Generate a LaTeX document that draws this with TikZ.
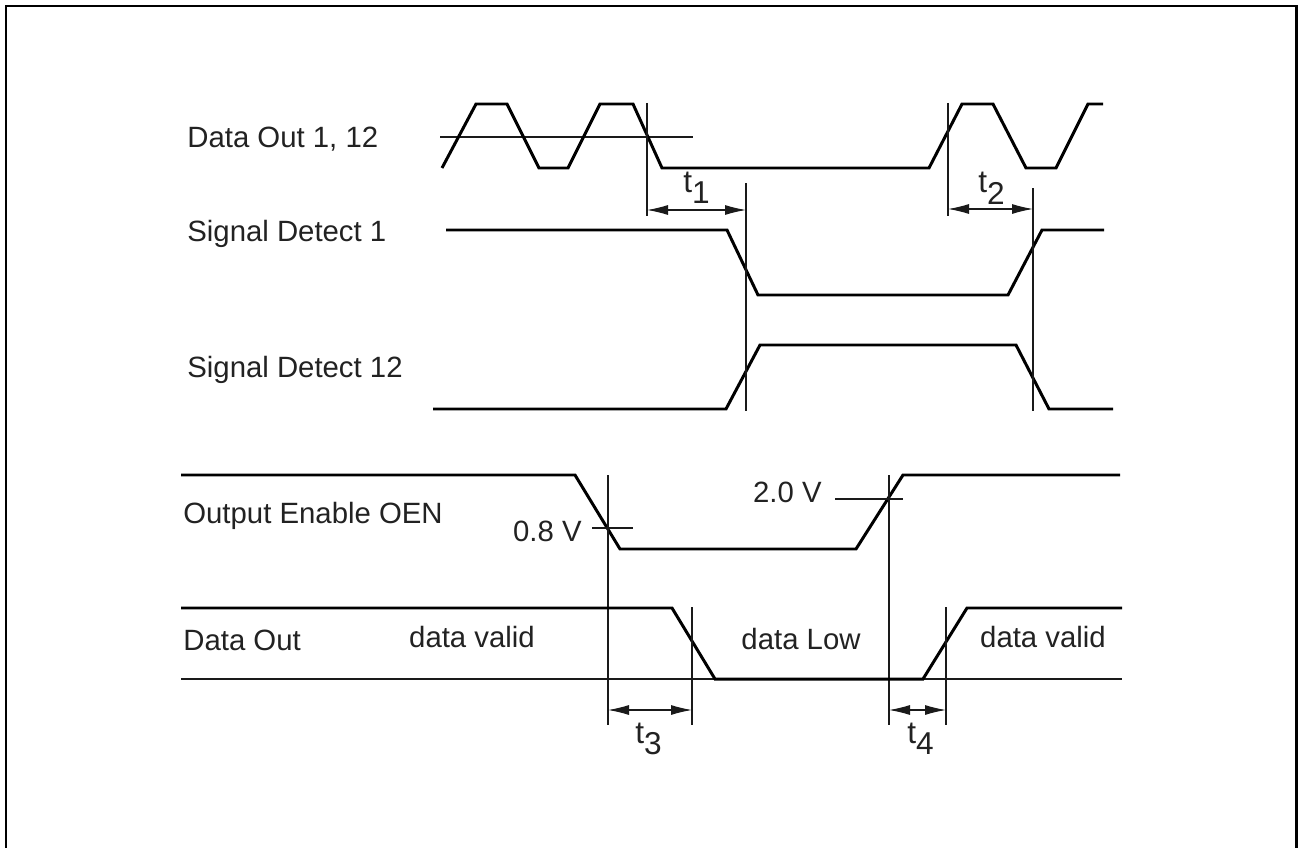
\documentclass[tikz,border=0pt]{standalone}
\usepackage{fontspec}
\setmainfont{Liberation Sans}
\usepackage{xcolor}
\definecolor{tdink}{HTML}{000000}
\definecolor{tdguide}{HTML}{1A1A1A}
\definecolor{tdtext}{HTML}{222222}
\usepackage{tikz}
\usetikzlibrary{arrows.meta}
\newcommand{\tsub}[1]{t\raisebox{-0.36em}{#1}}

\begin{document}
\begin{tikzpicture}[x=0.02cm,y=-0.02cm,
  font=\fontsize{16.7}{19}\selectfont,
  wave/.style={tdink,line width=1.7pt,line join=miter},
  guide/.style={tdguide,line width=0.6pt},
  dim/.style={tdguide,line width=0.6pt,{Latex[length=4.2mm,width=2mm]}-{Latex[length=4.2mm,width=2mm]}},
  lbl/.style={tdtext,inner sep=0pt}]
\useasboundingbox (0,0) rectangle (1298,848);
% frame, open at the bottom
\draw[tdink,line width=1.7pt] (6,848) -- (6,6) -- (1296,6) -- (1296,848);

% signal names
\node[lbl,anchor=base west] (nDO) at (187,148) {Data Out 1, 12};
\node[lbl,anchor=base west] (nSD1) at (187,241) {Signal Detect 1};
\node[lbl,anchor=base west] (nSD12) at (187,377) {Signal Detect 12};
\node[lbl,anchor=base west] (nOEN) at (183,523) {Output Enable OEN};
\node[lbl,anchor=base west] (nOut) at (183,650) {Data Out};

% data out 1, 12 with threshold
\draw[guide] (440,137) -- (693,137);
\draw[wave] (442,168) -- (476,104) -- (507,104) -- (539,168) -- (568,168)
  -- (600,104) -- (633,104) -- (662,168) -- (929,168) -- (962,104)
  -- (993,104) -- (1026,168) -- (1056,168) -- (1088,104) -- (1103,104);

% signal detect 1 and 12
\draw[wave] (446,230) -- (727,230) -- (758,295) -- (1008,295) -- (1042,230) -- (1104,230);
\draw[wave] (433,409) -- (726,409) -- (760,345) -- (1016,345) -- (1049,409) -- (1113,409);

% t1 / t2 markers
\draw[guide] (647,103) -- (647,216);
\draw[guide] (746,183) -- (746,411);
\draw[guide] (948,103) -- (948,216);
\draw[guide] (1033,188) -- (1033,411);
\coordinate (a1) at (647,210); \coordinate (b1) at (746,210);
\coordinate (a2) at (948,209); \coordinate (b2) at (1033,209);
\draw[dim] (a1) -- (b1);
\draw[dim] (a2) -- (b2);
\node[lbl,anchor=base west,font=\fontsize{18}{20}\selectfont] (t1) at (683,192) {\tsub{1}};
\node[lbl,anchor=base west,font=\fontsize{18}{20}\selectfont] (t2) at (978,193) {\tsub{2}};

% output enable
\draw[wave] (181,475) -- (575,475) -- (620,549) -- (856,549) -- (903,475) -- (1120,475);
\draw[guide] (608,475) -- (608,725);
\draw[guide] (889,475) -- (889,725);
\draw[guide] (592,528) -- (633,528);
\draw[guide] (835,499) -- (903,499);
\node[lbl,anchor=base east] (v08) at (582,541) {0.8 V};
\node[lbl,anchor=base east] (v20) at (822,502) {2.0 V};

% data out
\draw[guide] (181,679) -- (1122,679);
\draw[wave] (181,608) -- (672,608) -- (715,679) -- (923,679) -- (967,608) -- (1122,608);
\node[lbl,anchor=base] (dv1) at (472,647) {data valid};
\node[lbl,anchor=base] (dlo) at (801,649) {data Low};
\node[lbl,anchor=base] (dv2) at (1043,647) {data valid};

% t3 / t4 markers
\draw[guide] (692,607) -- (692,725);
\draw[guide] (946,607) -- (946,725);
\coordinate (a3) at (608,710); \coordinate (b3) at (692,710);
\coordinate (a4) at (889,710); \coordinate (b4) at (946,710);
\draw[dim] (a3) -- (b3);
\draw[dim] (a4) -- (b4);
\node[lbl,anchor=base west,font=\fontsize{18}{20}\selectfont] (t3) at (635,743) {\tsub{3}};
\node[lbl,anchor=base west,font=\fontsize{18}{20}\selectfont] (t4) at (907,743) {\tsub{4}};
\end{tikzpicture}
\end{document}
